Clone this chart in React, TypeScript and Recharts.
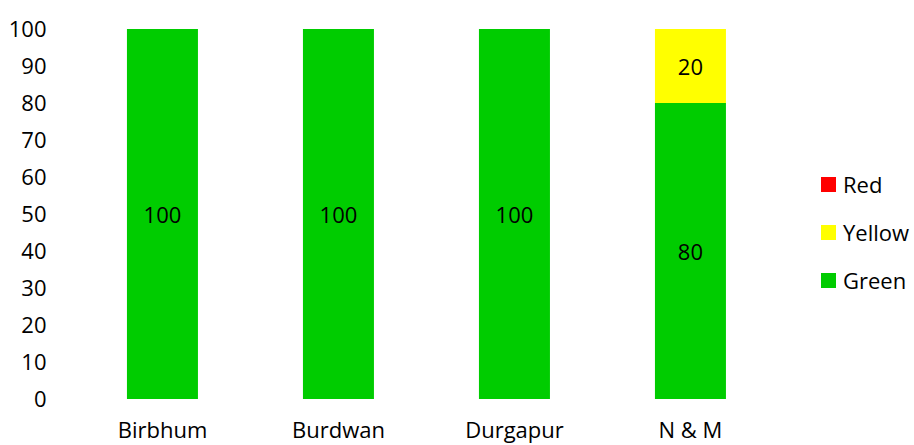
import React from "react";
import { BarChart, Bar, XAxis, YAxis, LabelList } from "recharts";

const categories = ["Birbhum", "Burdwan", "Durgapur", "N & M"];
const green = [100, 100, 100, 80];
const yellow = [0, 0, 0, 20];
const red = [0, 0, 0, 0];
const yTicks = [0, 10, 20, 30, 40, 50, 60, 70, 80, 90, 100];

const data = categories.map((name, i) => ({
  name,
  Green: green[i],
  Yellow: yellow[i],
  Red: red[i],
}));

const legendItems = [
  { name: "Red", color: "#FF0000" },
  { name: "Yellow", color: "#FFFF00" },
  { name: "Green", color: "#00CC00" },
];

const FONT = "'Open Sans', sans-serif";
const FS = 22;

const renderLabel = (props: any) => {
  const { x, y, width, height, value } = props;
  if (!value) return null;
  return (
    <text
      x={x + width / 2}
      y={y + height / 2}
      textAnchor="middle"
      dominantBaseline="central"
      fill="#000"
      fontSize={FS}
      fontFamily={FONT}
    >
      {value}
    </text>
  );
};

export default function App() {
  return (
    <div style={{ position: "absolute", left: 0, top: 0, width: 914, height: 445 }}>
      <BarChart
        width={914}
        height={445}
        data={data}
        margin={{ top: 29, right: 135.5, bottom: 16, left: 0 }}
        barCategoryGap="29.8%"
      >
        <XAxis
          dataKey="name"
          height={30}
          axisLine={false}
          tickLine={false}
          tickMargin={17}
          tick={{ fill: "#000", fontSize: FS, fontFamily: FONT }}
          interval={0}
        />
        <YAxis
          width={74.5}
          domain={[0, 100]}
          ticks={yTicks}
          axisLine={false}
          tickLine={false}
          tickMargin={22}
          tick={{ fill: "#000", fontSize: FS, fontFamily: FONT }}
          interval={0}
        />
        <Bar dataKey="Green" stackId="a" fill="#00CC00" isAnimationActive={false}>
          <LabelList dataKey="Green" content={renderLabel} />
        </Bar>
        <Bar dataKey="Yellow" stackId="a" fill="#FFFF00" isAnimationActive={false}>
          <LabelList dataKey="Yellow" content={renderLabel} />
        </Bar>
        <Bar dataKey="Red" stackId="a" fill="#FF0000" isAnimationActive={false}>
          <LabelList dataKey="Red" content={renderLabel} />
        </Bar>
      </BarChart>
      <div
        style={{
          position: "absolute",
          left: 821,
          top: 160,
          fontFamily: FONT,
          fontSize: FS,
          color: "#000",
          whiteSpace: "nowrap",
        }}
      >
        {legendItems.map((it) => (
          <div key={it.name} style={{ display: "flex", alignItems: "center", height: 48 }}>
            <span
              style={{
                display: "inline-block",
                width: 15,
                height: 15,
                background: it.color,
                marginRight: 7,
              }}
            />
            <span>{it.name}</span>
          </div>
        ))}
      </div>
    </div>
  );
}
